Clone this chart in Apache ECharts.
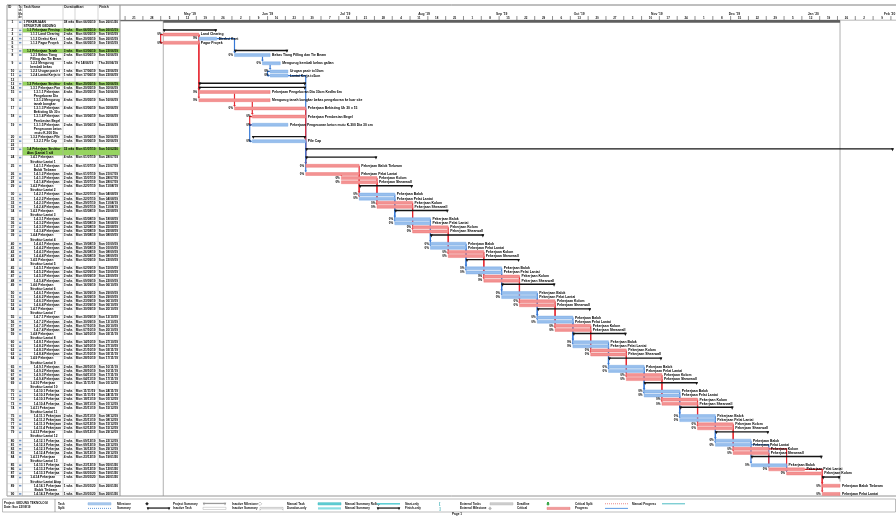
<!DOCTYPE html>
<html>
<head>
<meta charset="utf-8">
<title>Jadwal Pekerjaan Struktur</title>
<script src="https://cdn.jsdelivr.net/npm/echarts@6/dist/echarts.min.js"></script>
<style>
  html, body { margin: 0; padding: 0; background: #fff; }
  #chart { width: 896px; height: 517px; }
</style>
</head>
<body>
<div id="chart"></div>
<script>
// baris tabel: [nama, level, mulai (hari ke-), durasi (hari), kritis, jumlah baris teks]
const projectRow = [
  ['PEKERJAAN STRUKTUR GEDUNG TEKNOLOGI', 0, 17, 266, 0, 2]
];
const persiapanRows = [
  ['Pekerjaan Persiapan', 1, 17, 21, 0, 1],
  ['Land Clearing', 2, 17, 14, 1, 1],
  ['Direksi Keet', 2, 31, 7, 0, 1],
  ['Pagar Proyek', 2, 17, 14, 1, 1],
  ['', null, 0, 0, 0, 1]
];
const tanahRows = [
  ['Pekerjaan Tanah', 1, 45, 21, 0, 1],
  ['Bekas Tiang Pilling dan Tie Beam', 2, 45, 14, 0, 2],
  ['Mengurug kembali bekas galian', 2, 56, 7, 0, 2],
  ['Urugan pasir t=10cm', 2, 59, 7, 0, 1],
  ['Lantai Kerja t=5cm', 2, 59, 7, 0, 1],
  ['', null, 0, 0, 0, 1]
];
const bawahRows = [
  ['Pekerjaan Struktur Bawah', 1, 31, 42, 0, 1],
  ['Pekerjaan Pondasi Bore Pile', 2, 31, 42, 0, 1],
  ['Pekerjaan Pengeboran Dia 30cm Kedlm 6m', 3, 31, 28, 1, 2],
  ['Mengurug tanah bongkar bekas pengeboran ke luar site', 3, 31, 28, 1, 2],
  ['Pekerjaan Bekisting Uk 30 x 15', 3, 45, 28, 1, 2],
  ['Pekerjaan Pembesian Begel', 3, 52, 21, 1, 2],
  ['Pekerjaan Pengecoran beton mutu K-300 Dia 30 cm', 3, 52, 14, 0, 3],
  ['Pekerjaan Pile Cap', 2, 52, 21, 0, 1],
  ['Pile Cap', 3, 52, 21, 0, 1],
  ['', null, 0, 0, 0, 1]
];
const atasRows = [
  ['Pekerjaan Struktur Atas (Lantai 1 s/d Atap)', 1, 73, 231, 0, 2],
  ['Pekerjaan Struktur Lantai 1', 2, 73, 28, 0, 2],
  ['Pekerjaan Balok Tiebeam', 3, 73, 21, 1, 2],
  ['Pekerjaan Pelat Lantai', 3, 73, 21, 1, 1],
  ['Pekerjaan Kolom', 3, 87, 14, 1, 1],
  ['Pekerjaan Shearwall', 3, 87, 14, 1, 1],
  ['Pekerjaan Struktur Lantai 2', 2, 94, 21, 0, 2],
  ['Pekerjaan Balok', 3, 94, 14, 0, 1],
  ['Pekerjaan Pelat Lantai', 3, 94, 14, 0, 1],
  ['Pekerjaan Kolom', 3, 101, 14, 1, 1],
  ['Pekerjaan Shearwall', 3, 101, 14, 1, 1],
  ['Pekerjaan Struktur Lantai 3', 2, 108, 21, 0, 2],
  ['Pekerjaan Balok', 3, 108, 14, 0, 1],
  ['Pekerjaan Pelat Lantai', 3, 108, 14, 0, 1],
  ['Pekerjaan Kolom', 3, 115, 14, 1, 1],
  ['Pekerjaan Shearwall', 3, 115, 14, 1, 1],
  ['Pekerjaan Struktur Lantai 4', 2, 122, 21, 0, 2],
  ['Pekerjaan Balok', 3, 122, 14, 0, 1],
  ['Pekerjaan Pelat Lantai', 3, 122, 14, 0, 1],
  ['Pekerjaan Kolom', 3, 129, 14, 1, 1],
  ['Pekerjaan Shearwall', 3, 129, 14, 1, 1],
  ['Pekerjaan Struktur Lantai 5', 2, 136, 21, 0, 2],
  ['Pekerjaan Balok', 3, 136, 14, 0, 1],
  ['Pekerjaan Pelat Lantai', 3, 136, 14, 0, 1],
  ['Pekerjaan Kolom', 3, 143, 14, 1, 1],
  ['Pekerjaan Shearwall', 3, 143, 14, 1, 1],
  ['Pekerjaan Struktur Lantai 6', 2, 150, 21, 0, 2],
  ['Pekerjaan Balok', 3, 150, 14, 0, 1],
  ['Pekerjaan Pelat Lantai', 3, 150, 14, 0, 1],
  ['Pekerjaan Kolom', 3, 157, 14, 1, 1],
  ['Pekerjaan Shearwall', 3, 157, 14, 1, 1],
  ['Pekerjaan Struktur Lantai 7', 2, 164, 21, 0, 2],
  ['Pekerjaan Balok', 3, 164, 14, 0, 1],
  ['Pekerjaan Pelat Lantai', 3, 164, 14, 0, 1],
  ['Pekerjaan Kolom', 3, 171, 14, 1, 1],
  ['Pekerjaan Shearwall', 3, 171, 14, 1, 1],
  ['Pekerjaan Struktur Lantai 8', 2, 178, 21, 0, 2],
  ['Pekerjaan Balok', 3, 178, 14, 0, 1],
  ['Pekerjaan Pelat Lantai', 3, 178, 14, 0, 1],
  ['Pekerjaan Kolom', 3, 185, 14, 1, 1],
  ['Pekerjaan Shearwall', 3, 185, 14, 1, 1],
  ['Pekerjaan Struktur Lantai 9', 2, 192, 21, 0, 2],
  ['Pekerjaan Balok', 3, 192, 14, 0, 1],
  ['Pekerjaan Pelat Lantai', 3, 192, 14, 0, 1],
  ['Pekerjaan Kolom', 3, 199, 14, 1, 1],
  ['Pekerjaan Shearwall', 3, 199, 14, 1, 1],
  ['Pekerjaan Struktur Lantai 10', 2, 206, 21, 0, 2],
  ['Pekerjaan Balok', 3, 206, 14, 0, 1],
  ['Pekerjaan Pelat Lantai', 3, 206, 14, 0, 1],
  ['Pekerjaan Kolom', 3, 213, 14, 1, 1],
  ['Pekerjaan Shearwall', 3, 213, 14, 1, 1],
  ['Pekerjaan Struktur Lantai 11', 2, 220, 21, 0, 2],
  ['Pekerjaan Balok', 3, 220, 14, 0, 1],
  ['Pekerjaan Pelat Lantai', 3, 220, 14, 0, 1],
  ['Pekerjaan Kolom', 3, 227, 14, 1, 1],
  ['Pekerjaan Shearwall', 3, 227, 14, 1, 1],
  ['Pekerjaan Struktur Lantai 12', 2, 234, 21, 0, 2],
  ['Pekerjaan Balok', 3, 234, 14, 0, 1],
  ['Pekerjaan Pelat Lantai', 3, 234, 14, 0, 1],
  ['Pekerjaan Kolom', 3, 241, 14, 1, 1],
  ['Pekerjaan Shearwall', 3, 241, 14, 1, 1],
  ['Pekerjaan Struktur Lantai 13', 2, 248, 28, 0, 2],
  ['Pekerjaan Balok', 3, 248, 14, 0, 1],
  ['Pekerjaan Pelat Lantai', 3, 255, 14, 1, 1],
  ['Pekerjaan Kolom', 3, 262, 14, 1, 1],
  ['Pekerjaan Struktur Lantai Atap', 2, 276, 7, 0, 2],
  ['Pekerjaan Balok Tiebeam', 3, 276, 7, 1, 2],
  ['Pekerjaan Pelat Lantai', 3, 276, 7, 1, 1]
];

// hubungan antar tugas: [id pendahulu, id pengganti, jenis]
const links = [
  [3, 5, 'SS'], [3, 4], [3, 15], [5, 16], [4, 8], [8, 9], [9, 10], [10, 11, 'SS'],
  [15, 17], [16, 18], [18, 19, 'SS'], [19, 21, 'SS'], [11, 25], [17, 25], [21, 26], [26, 27],
  [25, 30], [26, 31], [27, 32], [28, 33],
  [30, 35], [31, 36], [32, 37], [33, 38],
  [35, 40], [36, 41], [37, 42], [38, 43],
  [40, 45], [41, 46], [42, 47], [43, 48],
  [45, 50], [46, 51], [47, 52], [48, 53],
  [50, 55], [51, 56], [52, 57], [53, 58],
  [55, 60], [56, 61], [57, 62], [58, 63],
  [60, 65], [61, 66], [62, 67], [63, 68],
  [65, 70], [66, 71], [67, 72], [68, 73],
  [70, 75], [71, 76], [72, 77], [73, 78],
  [75, 80], [76, 81], [77, 82], [78, 83],
  [80, 85], [81, 86], [82, 87], [83, 86], [85, 87],
  [87, 89], [86, 90]
];

// garis tanggal mulai & selesai proyek (hari ke-)
const projectLines = [17, 283];

const monthNames = ['Jan', 'Feb', 'Mar', 'Apr', 'May', 'Jun', 'Jul', 'Aug', 'Sep', 'Oct', 'Nov', 'Dec'];
const dayNames = ['Sun', 'Mon', 'Tue', 'Wed', 'Thu', 'Fri', 'Sat'];
const tableHeads = ['ID', 'Ta\nsk\nMo\nde', 'Task Name', 'Duration', 'Start', 'Finish'];

const X_MAX = 305;
const FONT = '"Liberation Sans", Arial, sans-serif';
const fnt = (s, b) => (b === false ? '' : 'bold ') + s + 'px ' + FONT;
const RED = '#f39292', RED_LINE = '#e6262f';
const BLUE = '#98bfed', BLUE_LINE = '#3578d6';
const GREEN = '#96d460';
const colX = [0, 11, 15.5, 56, 68, 91, 113];   // relatif terhadap x = 7

const dayOf = d => new Date(2019, 3, 19 + d);
const pad = n => (n < 10 ? '0' : '') + n;
const fmtDate = d => { const t = dayOf(d); return dayNames[t.getDay()] + ' ' + pad(t.getDate()) + '/' + pad(t.getMonth() + 1) + '/' + String(t.getFullYear()).slice(2); };
const fmtDur = d => (d % 7 === 0 ? (d / 7) + ' wks' : d + ' days');

// susun baris, nomor WBS dan posisi baris
const rows = [];
let line = 0;
const counters = [];
[].concat(projectRow, persiapanRows, tanahRows, bawahRows, atasRows).forEach((r, i) => {
  const o = { id: i + 1, name: r[0], level: r[1], start: r[2], dur: r[3], crit: r[4], lines: r[5], line: line, wbs: '' };
  if (o.level != null) {
    counters[o.level] = (counters[o.level] || 0) + 1;
    counters.length = o.level + 1;
    o.wbs = counters.join('.');
  }
  line += o.lines;
  rows.push(o);
});
const TOTAL_LINES = line;
rows.forEach((r, i) => {
  let j = i + 1;
  while (j < rows.length && rows[j].level == null) j++;
  r.summary = r.level != null && j < rows.length && rows[j].level > r.level;
});

// skala waktu: bulan & minggu
const monthTicks = [];
for (let m = 4; m <= 14; m++) {
  const s = Math.round((new Date(2019, m, 1) - new Date(2019, 3, 19)) / 864e5);
  const e = Math.round((new Date(2019, m + 1, 1) - new Date(2019, 3, 19)) / 864e5);
  if (s > X_MAX) break;
  monthTicks.push({ s: s, e: e, label: monthNames[m % 12] + " '" + String(2019 + Math.floor(m / 12)).slice(2) });
}
const weekTicks = [];
for (let d = 2; d <= X_MAX; d += 7) weekTicks.push({ s: d, label: String(dayOf(d).getDate()) });

function renderTableRow(params, api) {
  const r = rows[params.dataIndex];
  const top = api.coord([0, r.line])[1];
  const bot = api.coord([0, r.line + r.lines])[1];
  const L = api.size([0, 1])[1];
  const x = c => api.coord([c, 0])[0];
  const kids = [];
  if (r.level === 1) {
    kids.push({ type: 'rect', shape: { x: x(colX[2]), y: top, width: x(colX[6]) - x(colX[2]), height: bot - top }, style: { fill: GREEN } });
  }
  kids.push({ type: 'line', shape: { x1: x(0), y1: bot, x2: x(colX[6]), y2: bot }, style: { stroke: '#c4c4c4', lineWidth: 0.5 } });
  colX.forEach(c => kids.push({ type: 'line', shape: { x1: x(c), y1: top, x2: x(c), y2: bot }, style: { stroke: '#a8a8a8', lineWidth: 0.5 } }));
  const txt = (s, tx, align, extra) => ({ type: 'text', style: Object.assign({ text: s, x: tx, y: top, align: align, verticalAlign: 'top', lineHeight: L, font: fnt(3.2), fill: '#000' }, extra || {}) });
  kids.push(txt(String(r.id), (x(colX[0]) + x(colX[1])) / 2, 'center'));
  if (r.level != null) {
    kids.push({ type: 'rect', shape: { x: x(colX[1]) + 1, y: top + 1.2, width: 2.4, height: 1.6 }, style: { fill: '#7597c4' } });
    const indent = 1 + r.level * 3.4;
    const w = x(colX[3]) - x(colX[2]) - indent - 1;
    kids.push(txt(r.wbs + ' ' + r.name, x(colX[2]) + indent, 'left', {
      width: w, height: r.lines * L, overflow: r.lines > 1 ? 'break' : 'truncate', ellipsis: '', lineOverflow: 'truncate'
    }));
    kids.push(txt(fmtDur(r.dur), x(colX[3]) + 0.8, 'left'));
    kids.push(txt(fmtDate(r.start), x(colX[4]) + 0.8, 'left'));
    kids.push(txt(fmtDate(r.start + r.dur - 1), x(colX[5]) + 0.8, 'left'));
  }
  return { type: 'group', children: kids };
}

function renderTask(params, api) {
  const r = rows[params.dataIndex];
  if (r.level == null) return null;
  const xs = api.coord([r.start, 0])[0];
  const xe = api.coord([r.start + r.dur, 0])[0];
  const yc = api.coord([0, r.line + 0.5])[1];
  if (r.level === 0) {
    return { type: 'rect', shape: { x: xs, y: yc - 1.9, width: xe - xs, height: 2.4 }, style: { fill: '#5e5e5e' } };
  }
  if (r.summary) {
    return { type: 'group', children: [
      { type: 'rect', shape: { x: xs, y: yc - 1.2, width: xe - xs, height: 1.4 }, style: { fill: '#151515' } },
      { type: 'polygon', shape: { points: [[xs - 0.4, yc - 1.2], [xs + 2.4, yc - 1.2], [xs + 1, yc + 1.9]] }, style: { fill: '#151515' } },
      { type: 'polygon', shape: { points: [[xe - 2.4, yc - 1.2], [xe + 0.4, yc - 1.2], [xe - 1, yc + 1.9]] }, style: { fill: '#151515' } }
    ] };
  }
  return { type: 'group', children: [
    { type: 'rect', shape: { x: xs, y: yc - 1.5, width: xe - xs, height: 3 }, style: { fill: r.crit ? RED : BLUE, stroke: r.crit ? '#ea6c6c' : '#6ea3e2', lineWidth: 0.4 } },
    { type: 'text', style: { text: r.name, x: xe + 2, y: yc, align: 'left', verticalAlign: 'middle', font: fnt(3.4), fill: '#000' } },
    { type: 'text', style: { text: '0%', x: xs - 1.6, y: yc, align: 'right', verticalAlign: 'middle', font: fnt(3), fill: '#000' } }
  ] };
}

function renderLink(params, api) {
  const lk = links[params.dataIndex];
  const a = rows[lk[0] - 1], b = rows[lk[1] - 1];
  const ya = api.coord([0, a.line + 0.5])[1];
  const yb = api.coord([0, b.line + 0.5])[1];
  const xaS = api.coord([a.start, 0])[0];
  const xaE = api.coord([a.start + a.dur, 0])[0];
  const xb = api.coord([b.start, 0])[0];
  const color = a.crit ? RED_LINE : BLUE_LINE;
  let pts, arrow;
  if (lk[2] === 'SS') {
    const xl = Math.min(xaS, xb) - 2.6;
    pts = [[xaS, ya], [xl, ya], [xl, yb], [xb - 1.5, yb]];
    arrow = [[xb, yb], [xb - 2, yb - 1.2], [xb - 2, yb + 1.2]];
  } else {
    const yTop = yb - 1.5;
    pts = xb >= xaE - 0.5 ? [[xaE, ya], [xb, ya], [xb, yTop - 1.6]] : [[xb, ya + 1.5], [xb, yTop - 1.6]];
    arrow = [[xb, yTop], [xb - 1.3, yTop - 2], [xb + 1.3, yTop - 2]];
  }
  return { type: 'group', children: [
    { type: 'polyline', shape: { points: pts }, style: { stroke: color, lineWidth: 1.2, fill: null } },
    { type: 'polygon', shape: { points: arrow }, style: { fill: color } }
  ] };
}

function renderProjectLine(params, api) {
  const d = projectLines[params.dataIndex];
  const p0 = api.coord([d, 0]);
  const p1 = api.coord([d, params.dataIndex === 0 ? TOTAL_LINES : TOTAL_LINES - 3.5]);
  return { type: 'line', shape: { x1: p0[0], y1: p0[1], x2: p1[0], y2: p1[1] }, style: { stroke: '#9c9c9c', lineWidth: 0.8 } };
}

function renderMonth(params, api) {
  const m = monthTicks[params.dataIndex];
  const c = api.coord([(m.s + m.e) / 2, 8.8]);
  return { type: 'text', style: { text: m.label, x: c[0], y: c[1], align: 'center', verticalAlign: 'middle', font: fnt(3.3), fill: '#222' } };
}

function renderWeek(params, api) {
  const w = weekTicks[params.dataIndex];
  const t0 = api.coord([w.s, 11]), t1 = api.coord([w.s, 15]);
  const c = api.coord([w.s + 3.5, 13]);
  return { type: 'group', children: [
    { type: 'line', shape: { x1: t0[0], y1: t0[1], x2: t1[0], y2: t1[1] }, style: { stroke: '#444', lineWidth: 0.6 } },
    { type: 'text', style: { text: w.label, x: c[0], y: c[1], align: 'center', verticalAlign: 'middle', font: fnt(3), fill: '#222' } }
  ] };
}

// elemen statis: kepala tabel, bingkai, legenda
const g = [];
const gLine = (x1, y1, x2, y2, stroke, w, dash) => g.push({ type: 'line', silent: true, shape: { x1: x1, y1: y1, x2: x2, y2: y2 }, style: { stroke: stroke, lineWidth: w || 0.6, lineDash: dash || null } });
const gRect = (x, y, w, h, fill, stroke) => g.push({ type: 'rect', silent: true, shape: { x: x, y: y, width: w, height: h }, style: { fill: fill || 'none', stroke: stroke || null, lineWidth: 0.5 } });
const gPoly = (pts, fill, stroke) => g.push({ type: 'polygon', silent: true, shape: { points: pts }, style: { fill: fill || 'none', stroke: stroke || null, lineWidth: 0.5 } });
const gText = (s, x, y, size, align, color, lh) => g.push({ type: 'text', silent: true, style: { text: s, x: x, y: y, align: align || 'left', verticalAlign: lh ? 'top' : 'middle', lineHeight: lh || null, font: fnt(size), fill: color || '#111' } });

gLine(7, 5, 896, 5, '#6f6f6f', 0.9);
gLine(7, 20.2, 896, 20.2, '#8a8a8a', 0.6);
gLine(120, 20.6, 840, 20.6, '#6a6a6a', 1.2);
gLine(7, 496, 896, 496, '#7a7a7a', 0.8);
gLine(7, 5, 7, 496, '#8a8a8a', 0.6);
gLine(120, 5, 120, 496, '#8a8a8a', 0.7);
colX.forEach(c => gLine(7 + c, 5, 7 + c, 20.2, '#a8a8a8', 0.5));
tableHeads.forEach((h, i) => gText(h, 7 + colX[i] + (i === 1 ? 0.6 : 1.2), 5.8, i === 1 ? 2.7 : 3.2, 'left', '#111', i === 1 ? 3.2 : 3.6));

const bracket = (x, y, w, color, outline) => {
  if (outline) {
    gPoly([[x, y - 1], [x + w, y - 1], [x + w, y + 1.8], [x + w - 1.2, y + 0.4], [x + 1.2, y + 0.4], [x, y + 1.8]], null, color);
  } else {
    gRect(x, y - 1, w, 1.3, color);
    gPoly([[x - 0.3, y - 1], [x + 2.3, y - 1], [x + 1, y + 1.8]], color);
    gPoly([[x + w - 2.3, y - 1], [x + w + 0.3, y - 1], [x + w - 1, y + 1.8]], color);
  }
};
const diamond = (x, y, fill, stroke) => gPoly([[x, y - 1.8], [x + 1.8, y], [x, y + 1.8], [x - 1.8, y]], fill, stroke);

const legendItems = [
  ['Task', 58, 0, 'task', 88], ['Split', 58, 1, 'split', 88],
  ['Milestone', 117, 0, 'milestone', 147], ['Summary', 117, 1, 'summary', 147],
  ['Project Summary', 173, 0, 'projsum', 203], ['Inactive Task', 173, 1, 'inactive', 203],
  ['Inactive Milestone', 232, 0, 'inmile', 260], ['Inactive Summary', 232, 1, 'insum', 260],
  ['Manual Task', 287, 0, 'manual', 318], ['Duration-only', 287, 1, 'duronly', 318],
  ['Manual Summary Rollup', 345, 0, 'rollup', 377], ['Manual Summary', 345, 1, 'mansum', 377],
  ['Start-only', 405, 0, 'start', 440], ['Finish-only', 405, 1, 'finish', 440],
  ['External Tasks', 460, 0, 'external', 490], ['External Milestone', 460, 1, 'extmile', 490],
  ['Deadline', 517, 0, 'deadline', 548], ['Critical', 517, 1, 'critical', 547],
  ['Critical Split', 575, 0, 'critsplit', 605], ['Progress', 575, 1, 'progress', 605],
  ['Manual Progress', 632, 0, 'manprog', 662]
];
function swatch(kind, x, y) {
  const w = 23;
  if (kind === 'task') gRect(x, y - 1.1, w, 2.2, '#a9c9ee', '#86aede');
  else if (kind === 'split') gLine(x, y, x + w, y, '#6f9fd8', 1.1, [1, 1]);
  else if (kind === 'milestone') diamond(x, y, '#222');
  else if (kind === 'summary' || kind === 'mansum') bracket(x, y, w, '#222');
  else if (kind === 'projsum') bracket(x, y, w, '#9a9a9a');
  else if (kind === 'inactive') gRect(x, y - 1.1, w, 2.2, '#fff', '#b0b0b0');
  else if (kind === 'inmile') diamond(x, y, '#fff', '#999');
  else if (kind === 'insum') bracket(x, y, w, '#999', true);
  else if (kind === 'manual') gRect(x, y - 1.1, w, 2.2, '#5fcfd5', '#37b4bb');
  else if (kind === 'duronly') gRect(x, y - 1.1, w, 2.2, '#8adde2');
  else if (kind === 'rollup') gRect(x, y - 0.8, w, 1.6, '#5fcfd5');
  else if (kind === 'start') gText('[', x, y, 4, 'center', '#2aa7ae');
  else if (kind === 'finish') gText(']', x, y, 4, 'center', '#2aa7ae');
  else if (kind === 'external') gRect(x, y - 1.1, w, 2.2, '#cfcfcf', '#b5b5b5');
  else if (kind === 'extmile') diamond(x, y, '#b5b5b5');
  else if (kind === 'deadline') gPoly([[x - 1, y - 1.8], [x + 1, y - 1.8], [x + 1, y], [x + 2, y], [x, y + 1.9], [x - 2, y], [x - 1, y]], '#3aa84a');
  else if (kind === 'critical') gRect(x, y - 1.1, w, 2.2, '#f29a9a', '#e57b7b');
  else if (kind === 'critsplit') gLine(x, y, x + w, y, '#ec8a8a', 1.1, [1, 1]);
  else if (kind === 'progress') gLine(x, y, x + w, y, '#4d8fe0', 0.9);
  else if (kind === 'manprog') gLine(x, y, x + w, y, '#37b4bb', 0.9);
}
gRect(2.5, 499, 893, 13, '#fff', '#7a7a7a');
gLine(55, 499, 55, 512, '#7a7a7a', 0.6);
gText('Project: GEDUNG TEKNOLOGI', 4, 503.6, 3, 'left');
gText('Date: Sun 22/09/19', 4, 507.4, 3, 'left');
legendItems.forEach(it => {
  const y = it[2] === 0 ? 503.8 : 508.4;
  gText(it[0], it[1], y, 3, 'left');
  swatch(it[3], it[4], y);
});
gText('Page 1', 452, 514.6, 3.1, 'left');

const chart = echarts.init(document.getElementById('chart'), null, { renderer: 'canvas' });
chart.setOption({
  backgroundColor: '#fff',
  animation: false,
  grid: [
    { left: 7, top: 20.2, width: 113, height: 475.8 },
    { left: 120, top: 20.2, width: 776, height: 475.8 },
    { left: 120, top: 5, width: 776, height: 15 }
  ],
  xAxis: [
    { gridIndex: 0, type: 'value', min: 0, max: 113, show: false },
    { gridIndex: 1, type: 'value', min: 0, max: X_MAX, show: false },
    { gridIndex: 2, type: 'value', min: 0, max: X_MAX, show: false }
  ],
  yAxis: [
    { gridIndex: 0, type: 'value', min: 0, max: TOTAL_LINES, inverse: true, show: false },
    { gridIndex: 1, type: 'value', min: 0, max: TOTAL_LINES, inverse: true, show: false },
    { gridIndex: 2, type: 'value', min: 0, max: 15, inverse: true, show: false }
  ],
  graphic: { elements: g },
  series: [
    {
      name: 'tabel', type: 'custom', xAxisIndex: 0, yAxisIndex: 0, silent: true, z: 2,
      renderItem: renderTableRow,
      data: rows.map(r => [0, r.line])
    },
    {
      name: 'garis proyek', type: 'custom', xAxisIndex: 1, yAxisIndex: 1, silent: true, z: 1,
      renderItem: renderProjectLine,
      data: projectLines.map(d => [d, 0])
    },
    {
      name: 'hubungan', type: 'custom', xAxisIndex: 1, yAxisIndex: 1, silent: true, z: 2,
      renderItem: renderLink,
      data: links.map(l => [rows[l[0] - 1].start, rows[l[0] - 1].line])
    },
    {
      name: 'tugas', type: 'custom', xAxisIndex: 1, yAxisIndex: 1, silent: true, z: 3,
      renderItem: renderTask,
      data: rows.map(r => [r.start, r.line])
    },
    {
      name: 'bulan', type: 'custom', xAxisIndex: 2, yAxisIndex: 2, silent: true, z: 3,
      renderItem: renderMonth,
      data: monthTicks.map(m => [m.s, 0])
    },
    {
      name: 'minggu', type: 'custom', xAxisIndex: 2, yAxisIndex: 2, silent: true, z: 3,
      renderItem: renderWeek,
      data: weekTicks.map(w => [w.s, 0])
    }
  ]
});
</script>
</body>
</html>
